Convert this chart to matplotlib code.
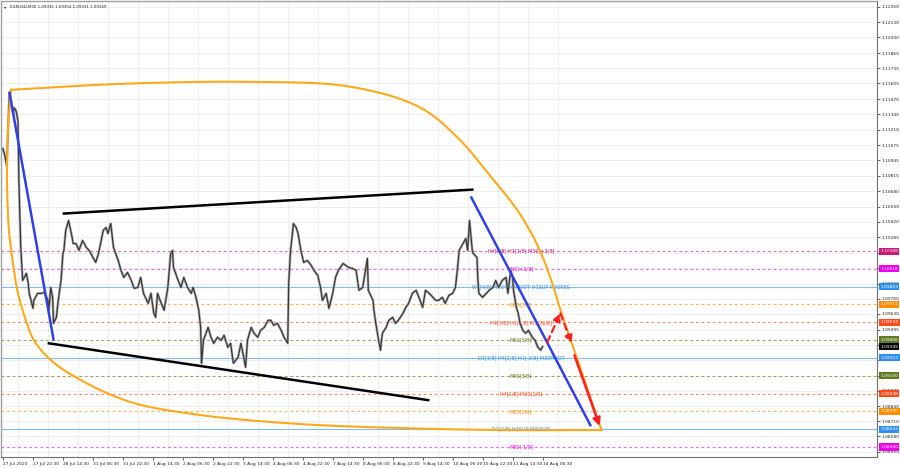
import numpy as np
import matplotlib
matplotlib.use('Agg')
import matplotlib.pyplot as plt
import matplotlib.transforms as mtransforms

# ---------------- data ----------------
bars = [0, 2, 4, 6, 7, 11, 12, 14, 16, 17, 19, 21, 25, 27, 28, 30, 32, 33, 37, 41,
        44, 48, 49, 51, 53, 54, 57, 59, 62, 64, 65, 67, 69, 70, 73, 75, 78, 81, 85, 89,
        92, 96, 99, 102, 107, 110, 112, 115, 118, 123, 126, 129, 133, 137, 140, 144, 147, 150, 155, 158,
        161, 163, 165, 169, 172, 176, 179, 181, 182, 187, 190, 193, 197, 201, 203, 206, 209, 211, 212, 214,
        219, 222, 225, 229, 233, 236, 240, 243, 245, 246, 251, 254, 257, 259, 261, 265, 268, 272, 275, 279,
        283, 286, 289, 293, 297, 300, 304, 305, 307, 309, 310, 313, 315, 318, 321, 325, 329, 332, 336, 339,
        341, 345, 348, 352, 355, 358, 363, 366, 369, 373, 377, 380, 384, 387, 389, 390, 395, 396, 398, 401,
        403, 405, 409, 412, 416, 419, 422, 427, 430, 433, 437, 441, 444, 448, 451, 455, 459, 462, 465, 469,
        472, 476, 480, 483, 485, 487, 491, 494, 496, 498, 499, 501, 502, 506, 507, 508, 512, 516, 519, 523,
        526, 529, 533, 537, 539, 542, 544, 545, 548, 550, 552, 555, 558, 561, 565, 568, 571, 574, 576]
closes = [1.11046, 1.10986, 1.10900, 1.11345, 1.11524, 1.11345, 1.11396, 1.11371, 1.11285, 1.10772,
          1.10199, 1.09917, 1.09977, 1.09891, 1.09806, 1.09746, 1.09678, 1.09746, 1.09806, 1.09806,
          1.09814, 1.09746, 1.09661, 1.09857, 1.09772, 1.09549, 1.09601, 1.09746, 1.09917, 1.10148,
          1.10174, 1.10345, 1.10404, 1.10430, 1.10319, 1.10233, 1.10233, 1.10174, 1.10259, 1.10199,
          1.10174, 1.10114, 1.10071, 1.10148, 1.10345, 1.10370, 1.10319, 1.10404, 1.10199, 1.10088,
          1.10003, 1.09943, 1.09985, 1.09917, 1.09849, 1.09857, 1.09943, 1.09806, 1.09720, 1.09806,
          1.09635, 1.09601, 1.09806, 1.09720, 1.09661, 1.09857, 1.10148, 1.10174, 1.10028, 1.09917,
          1.09857, 1.09943, 1.09857, 1.09806, 1.09857, 1.09772, 1.09661, 1.09515, 1.09207, 1.09404,
          1.09515, 1.09430, 1.09378, 1.09430, 1.09404, 1.09447, 1.09344, 1.09378, 1.09259, 1.09207,
          1.09259, 1.09378, 1.09259, 1.09173, 1.09404, 1.09515, 1.09464, 1.09430, 1.09489, 1.09515,
          1.09575, 1.09575, 1.09532, 1.09549, 1.09489, 1.09430, 1.09378, 1.09891, 1.10174, 1.10319,
          1.10404, 1.10370, 1.10319, 1.10174, 1.10071, 1.10088, 1.10045, 1.10003, 1.09960, 1.09857,
          1.09746, 1.09806, 1.09678, 1.09806, 1.09943, 1.10003, 1.10062, 1.10045, 1.10028, 1.10020,
          1.10003, 1.09832, 1.09857, 1.10003, 1.10105, 1.09832, 1.09746, 1.09661, 1.09549, 1.09404,
          1.09319, 1.09464, 1.09515, 1.09575, 1.09601, 1.09549, 1.09575, 1.09635, 1.09686, 1.09720,
          1.09806, 1.09832, 1.09772, 1.09686, 1.09832, 1.09806, 1.09772, 1.09746, 1.09746, 1.09772,
          1.09720, 1.09789, 1.09806, 1.09857, 1.10003, 1.10174, 1.10233, 1.10276, 1.10174, 1.10430,
          1.10345, 1.10174, 1.10148, 1.10114, 1.09917, 1.09806, 1.09772, 1.09806, 1.09832, 1.09857,
          1.09917, 1.09857, 1.09917, 1.09943, 1.09806, 1.10003, 1.09943, 1.09832, 1.09686, 1.09635,
          1.09549, 1.09489, 1.09464, 1.09489, 1.09430, 1.09404, 1.09344, 1.09319, 1.09349]

xtick_bars = [0, 32, 64, 96, 128, 160, 192, 224, 256, 288, 320, 352, 384, 416, 448, 480, 512, 544, 576]
xtick_labels = ['27 Jul 2023', '27 Jul 22:30', '28 Jul 14:30', '31 Jul 06:30', '31 Jul 22:30',
                '1 Aug 14:30', '2 Aug 06:30', '2 Aug 22:30', '3 Aug 14:30', '4 Aug 06:30',
                '4 Aug 22:30', '7 Aug 14:30', '8 Aug 06:30', '8 Aug 22:30', '9 Aug 14:30',
                '10 Aug 06:30', '10 Aug 22:30', '11 Aug 14:30', '14 Aug 06:30']

ytick_values = [1.12260, 1.12130, 1.12000, 1.11865, 1.11735, 1.11605, 1.11470, 1.11340, 1.11210,
                1.11075, 1.10945, 1.10815, 1.10680, 1.10550, 1.10420, 1.10285, 1.10155, 1.10025,
                1.09890, 1.09760, 1.09630, 1.09495, 1.09365, 1.09235, 1.09100, 1.08970, 1.08840,
                1.08710, 1.08580, 1.08450]
ytick_hidden = [1.10155, 1.10025, 1.09365, 1.09235, 1.09100]

level_prices = [1.10168, 1.10016, 1.09863, 1.09711, 1.09558, 1.09406, 1.09253, 1.09100,
                1.08948, 1.08795, 1.08643, 1.08490]
level_texts = ['H4[8/8] H1[1/8] M30[+2/8]', 'M30[+1/8]', 'W1[4/8] PIVOT H4PIVOT H1SUP M30RES',
               'M30[7/8]', 'H4[3/8] H1[7/8] M30[6/8]', 'M30[5/8]',
               'D1[3/8] H4[2/8] H1[-2/8] M30PIVOT', 'M30[3/8]', 'H4[1/8] M30[2/8]',
               'M30[1/8]', 'D1[2/8] H4SUP M30SUP', 'M30[-1/8]']
level_colors = ['#D63C8E', '#F030F0', '#6BB2F2', '#FF9A1F', '#FF6030', '#7A8A30',
                '#6BB2F2', '#7A8A30', '#FF6030', '#FF9A1F', '#6BB2F2', '#F030F0']
label_colors = ['#C8187A', '#EE00EE', '#2D8FEF', '#FF8C00', '#FF4A1A', '#5F7A22',
                '#2D8FEF', '#5F7A22', '#FF4A1A', '#FF8C00', '#2D8FEF', '#EE00EE']
level_solid = [False, False, True, False, False, False, True, False, False, False, True, False]

last_price = 1.09349
title_text = 'EURUSD,M30 1.09335 1.09354 1.09331 1.09349'

# drawn objects (time in bars, price)
blue1_t = [7, 54]
blue1_p = [1.11524, 1.09410]
blue2_t = [500, 627]
blue2_p = [1.10627, 1.08677]
black_up_t = [65, 501]
black_up_p = [1.10490, 1.10695]
black_lo_t = [49, 454]
black_lo_p = [1.09378, 1.08891]
red_dash_t = [581, 595, 607]
red_dash_p = [1.09387, 1.09635, 1.09378]
red_solid_t = [610, 637]
red_solid_p = [1.09276, 1.08669]
arc_top_t = [8.5, 125.9, 264.5, 371.2, 445.9, 488.5, 517.3, 549.3, 570.7, 584.6, 595.3, 608.1, 621.9,
             631.5, 639.0]
arc_top_p = [1.11550, 1.11601, 1.11618, 1.11576, 1.11396, 1.11114, 1.10840, 1.10516, 1.10216,
             1.09934, 1.09660, 1.09361, 1.09036, 1.08805, 1.08635]
arc_bot_t = [8.5, 5.3, 4.3, 6.4, 10.7, 16.0, 24.5, 33.1, 51.2, 83.2, 136.5, 211.2, 317.9, 424.5,
             531.2, 639.0]
arc_bot_p = [1.11550, 1.11200, 1.10772, 1.10345, 1.10062, 1.09806, 1.09575, 1.09404, 1.09233,
             1.09062, 1.08874, 1.08763, 1.08686, 1.08652, 1.08635, 1.08635]

# ---------------- figure ----------------
W, H = 900, 468
fig = plt.figure(figsize=(W / 100, H / 100), dpi=100)
fig.patch.set_facecolor('white')
ax = fig.add_axes([1 / W, 11 / H, 876 / W, 456 / H])
ax.set_facecolor('white')

XMIN, XMAX = -2.1, 933
YMIN, YMAX = 1.08404, 1.12311
ax.set_xlim(XMIN, XMAX)
ax.set_ylim(YMIN, YMAX)


def smooth_curve(ts, ps, n=30):
    """Centripetal Catmull-Rom through anchor points, computed in display-like units."""
    sx = 876.0 / (XMAX - XMIN)
    sy = 456.0 / (YMAX - YMIN)
    P = np.column_stack([np.asarray(ts) * sx, np.asarray(ps) * sy])
    P = np.vstack([2 * P[0] - P[1], P, 2 * P[-1] - P[-2]])
    out = []
    for i in range(1, len(P) - 2):
        p0, p1, p2, p3 = P[i - 1], P[i], P[i + 1], P[i + 2]
        t0 = 0.0
        t1 = t0 + np.linalg.norm(p1 - p0) ** 0.5
        t2 = t1 + np.linalg.norm(p2 - p1) ** 0.5
        t3 = t2 + np.linalg.norm(p3 - p2) ** 0.5
        t = np.linspace(t1, t2, n, endpoint=False)[:, None]
        A1 = (t1 - t) / (t1 - t0) * p0 + (t - t0) / (t1 - t0) * p1
        A2 = (t2 - t) / (t2 - t1) * p1 + (t - t1) / (t2 - t1) * p2
        A3 = (t3 - t) / (t3 - t2) * p2 + (t - t2) / (t3 - t2) * p3
        B1 = (t2 - t) / (t2 - t0) * A1 + (t - t0) / (t2 - t0) * A2
        B2 = (t3 - t) / (t3 - t1) * A2 + (t - t1) / (t3 - t1) * A3
        out.append((t2 - t) / (t2 - t1) * B1 + (t - t1) / (t2 - t1) * B2)
    out.append(P[-2][None])
    C = np.vstack(out)
    return C[:, 0] / sx, C[:, 1] / sy


# grid
for xb in xtick_bars:
    ax.axvline(xb + 16, color='#ececec', lw=0.6, zorder=0)
for yv in ytick_values:
    ax.axhline(yv, color='#ececec', lw=0.6, zorder=0)

# levels
for pr, c, solid in zip(level_prices, level_colors, level_solid):
    if solid:
        ax.axhline(pr, color=c, lw=0.8, alpha=0.85, zorder=1)
    else:
        ax.axhline(pr, color=c, lw=0.8, ls=(0, (2.5, 2.5)), alpha=0.75, zorder=1)

for pr, txt, c in zip(level_prices, level_texts, label_colors):
    ax.text(553, pr, txt, color=c, fontsize=3.5, ha='center', va='center', zorder=2)

# price series
ax.plot(bars, closes, color='#a8a8a8', lw=1.8, zorder=3)
ax.plot(bars, closes, color='#333333', lw=0.8, zorder=4)

# orange arc
tx, ty = smooth_curve(arc_top_t, arc_top_p)
bx, by = smooth_curve(arc_bot_t, arc_bot_p)
ax.plot(tx, ty, color='#FFA81A', lw=1.5, zorder=5)
ax.plot(bx, by, color='#FFA81A', lw=1.5, zorder=5)

# trend lines
ax.plot(blue1_t, blue1_p, color='#3040E8', lw=1.8, zorder=6)
ax.plot(blue2_t, blue2_p, color='#3040E8', lw=1.8, zorder=6)
ax.plot(black_up_t, black_up_p, color='black', lw=1.8, zorder=6)
ax.plot(black_lo_t, black_lo_p, color='black', lw=1.8, zorder=6)

# red arrows
for i in range(len(red_dash_t) - 1):
    ax.annotate('', xy=(red_dash_t[i + 1], red_dash_p[i + 1]), xytext=(red_dash_t[i], red_dash_p[i]),
                arrowprops=dict(arrowstyle='-|>,head_length=0.45,head_width=0.22', color='#FF2020',
                                lw=1.6, ls=(0, (3, 2)), shrinkA=0, shrinkB=0), zorder=7)
ax.annotate('', xy=(red_solid_t[1], red_solid_p[1]), xytext=(red_solid_t[0], red_solid_p[0]),
            arrowprops=dict(arrowstyle='-|>,head_length=0.45,head_width=0.22', color='#FF2020',
                            lw=1.8, shrinkA=0, shrinkB=0), zorder=7)

# axes styling
for s in ['top', 'left']:
    ax.spines[s].set_color('#a0a0a0')
    ax.spines[s].set_linewidth(1.0)
for s in ['right', 'bottom']:
    ax.spines[s].set_color('#707070')
    ax.spines[s].set_linewidth(0.8)

ax.yaxis.tick_right()
ax.set_yticks(ytick_values)
ax.set_yticklabels(['' if v in ytick_hidden else f'{v:.5f}' for v in ytick_values])
ax.tick_params(axis='y', labelsize=3.2, length=2.0, width=0.5, colors='#222222', pad=1.2)
ax.set_xticks(xtick_bars)
ax.set_xticklabels(xtick_labels, ha='left')
ax.tick_params(axis='x', labelsize=3.2, length=2.0, width=0.5, colors='#222222', pad=1.5)

# right-axis colored labels
trans = mtransforms.blended_transform_factory(ax.transAxes, ax.transData)
for pr, c in zip(level_prices, label_colors):
    ax.text(1.0035, pr, f'{pr:.5f}', transform=trans, fontsize=3.2, color='white', ha='left',
            va='center', clip_on=False, zorder=10,
            bbox=dict(boxstyle='square,pad=0.35', facecolor=c, edgecolor='none'))
ax.text(1.0035, last_price, f'{last_price:.5f}', transform=trans, fontsize=3.2, color='white',
        ha='left', va='center', clip_on=False, zorder=11,
        bbox=dict(boxstyle='square,pad=0.35', facecolor='black', edgecolor='none'))

# title
ax.text(3 / 876, 1 - 6 / 456, '\u25BE', transform=ax.transAxes, fontsize=3.2,
        color='#222222', ha='left', va='center')
ax.text(9 / 876, 1 - 6 / 456, title_text, transform=ax.transAxes, fontsize=2.9,
        color='#222222', ha='left', va='center')

fig.savefig('out.png', dpi=100, facecolor='white')
